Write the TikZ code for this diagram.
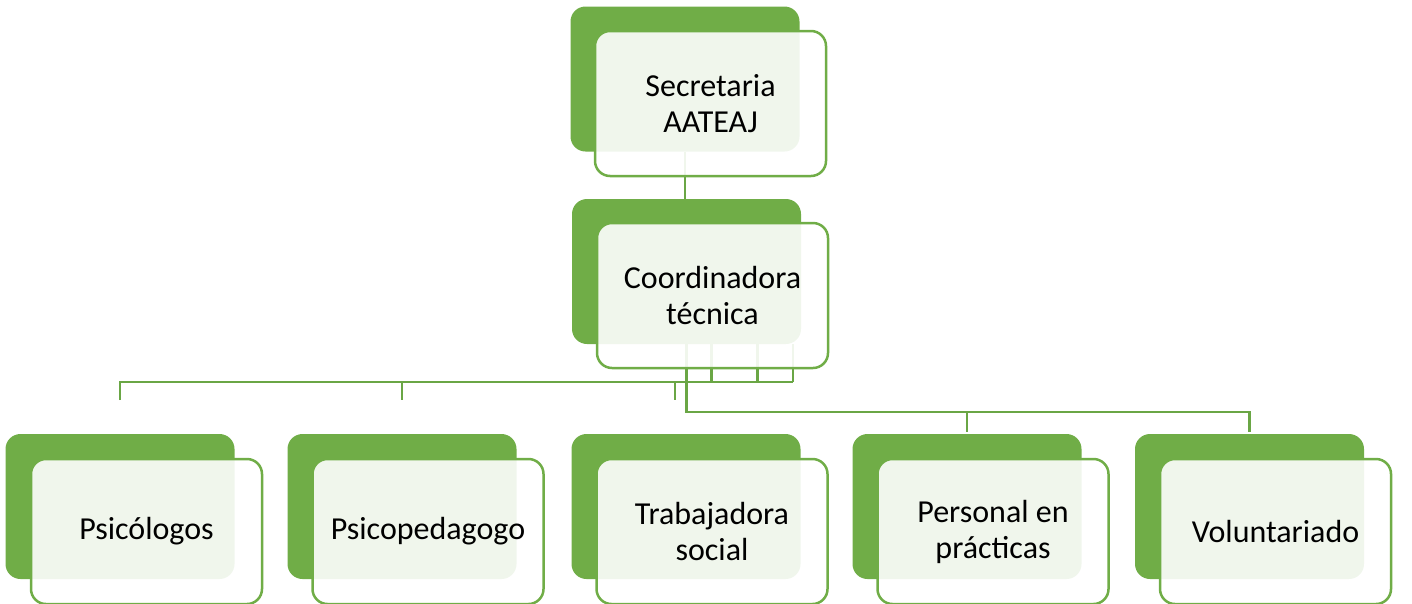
\documentclass[tikz,border=0pt]{standalone}
\usepackage{fontspec}
\setmainfont{Carlito}
\usetikzlibrary{calc}
\definecolor{boxgreen}{HTML}{70AD47}
\definecolor{linegreen}{HTML}{6AA645}
\begin{document}
\begin{tikzpicture}[x=1pt, y=-1pt,
  back/.style={fill=boxgreen, rounded corners=15pt, minimum width=229pt, minimum height=145pt, inner sep=0pt},
  front/.style={draw=boxgreen, line width=2.5pt, fill=white, fill opacity=0.9, text opacity=1, rounded corners=15pt,
    minimum width=231pt, minimum height=145pt, inner sep=0pt, align=center, font=\fontsize{32}{36}\selectfont},
  link/.style={draw=linegreen, line width=2.5pt}]
\useasboundingbox (0,0) rectangle (1412,603);

% dark back plates
\node (secback) [back] at (685,79) {};
\node (coordback) [back] at (686.5,271.5) {};
\node (psicback) [back] at (120,506.5) {};
\node (pedback) [back] at (402,506.5) {};
\node (trabback) [back] at (686,506.5) {};
\node (persback) [back] at (967,506.5) {};
\node (volback) [back] at (1249.5,506.5) {};

% connectors
\coordinate (bus) at (0,382);
\coordinate (drop) at (0,400);
\coordinate (bus2) at (0,412);
\draw[link] (secback.south) -- (secback.south |- coordback.north);
\foreach \dx in {0,25,71,106.5}
  \draw[link] ([xshift=\dx pt]coordback.south) -- ++(0,38);
\draw[link] (psicback.north |- drop) -- (psicback.north |- bus) -- ($(coordback.south |- bus)+(106.5,0)$);
\draw[link] (pedback.north |- bus) -- (pedback.north |- drop);
\draw[link] ($(trabback.north |- bus)+(-11,0)$) -- ++(0,18);
\draw[link] (coordback.south |- bus) -- (coordback.south |- bus2) -- (volback.north |- bus2) -- ++(0,20);
\draw[link] (persback.north |- bus2) -- ++(0,20);

% front boxes with text
\node (sec) [front] at (710.5,103.5) {Secretaria\\AATEAJ};
\node (coord) [front] at (712.5,295.5) {Coordinadora\\técnica};
\node (psic) [front] at (146.5,531.5) {Psicólogos};
\node (ped) [front] at (428,531.5) {Psicopedagogo};
\node (trab) [front] at (712,531.5) {Trabajadora\\social};
\node (pers) [front] at (993,531.5) {Personal en\\prácticas};
\node (vol) [front] at (1275.5,531.5) {Voluntariado};
\end{tikzpicture}
\end{document}
